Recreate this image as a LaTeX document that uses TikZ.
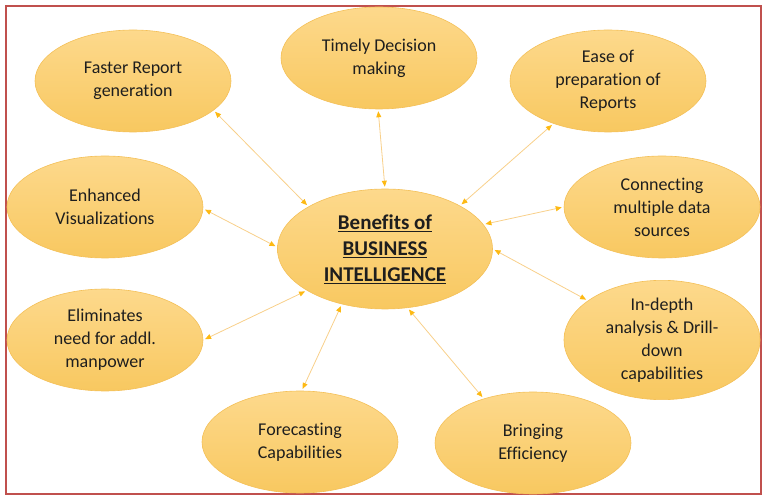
\documentclass[tikz,border=0pt]{standalone}
\usepackage{fontspec}
\setmainfont{Carlito}[Ligatures=NoCommon]
\usetikzlibrary{shapes.geometric,arrows.meta}
\definecolor{framec}{HTML}{C0504D}
\definecolor{elltop}{HTML}{FDD98C}
\definecolor{ellbot}{HTML}{F8C860}
\definecolor{ellline}{HTML}{F4C058}
\definecolor{linkc}{HTML}{F8D08A}
\definecolor{headc}{HTML}{FDB913}
\definecolor{txt}{HTML}{1E1E1E}
\begin{document}
\begin{tikzpicture}[x=1pt,y=-1pt,
  benefit/.style={ellipse, minimum width=196pt, minimum height=102pt, inner sep=0pt,
    draw=ellline, line width=0.6pt, top color=elltop, bottom color=ellbot,
    align=center, text=txt, font=\fontsize{18}{23}\selectfont},
  link/.style={draw=linkc, line width=0.8pt,
    >={Triangle[length=6pt,width=5pt,color=headc]}, <->,
    shorten >=2pt, shorten <=2pt}]
\useasboundingbox (0,0) rectangle (771,502);
\draw[framec, line width=2pt] (6,6) rectangle (761,494);

\node[benefit] (faster) at (133,81) {Faster Report\\generation};
\node[benefit] (timely) at (379,58) {Timely Decision\\making};
\node[benefit] (ease) at (608,81) {Ease of\\preparation of\\Reports};
\node[benefit] (enh) at (105,207) {Enhanced\\Visualizations};
\node[benefit] (conn) at (662,207) {Connecting\\multiple data\\sources};
\node[benefit] (elim) at (105,340) {Eliminates\\need for addl.\\manpower};
\node[benefit] (indepth) at (662,340) {In-depth\\analysis \& Drill-\\down\\capabilities};
\node[benefit] (fore) at (300,442) {Forecasting\\Capabilities};
\node[benefit] (bring) at (533,443) {Bringing\\Efficiency};

\node[benefit, minimum width=215pt, minimum height=120pt,
  font=\bfseries\fontsize{21}{26}\selectfont] (bi) at (385,249)
  {\underline{Benefits of}\\\underline{BUSINESS}\\\underline{INTELLIGENCE}};

\draw[link] (faster.-20) -- (bi.151);
\draw[link] (timely.-91) -- (bi.90);
\draw[link] (ease.-142) -- (bi.30);
\draw[link] (enh.-1) -- (bi.179);
\draw[link] (conn.180) -- (bi.14);
\draw[link] (elim.0) -- (bi.-152);
\draw[link] (indepth.152) -- (bi.0);
\draw[link] (fore.88) -- (bi.-128);
\draw[link] (bring.138) -- (bi.-69);
\end{tikzpicture}
\end{document}
